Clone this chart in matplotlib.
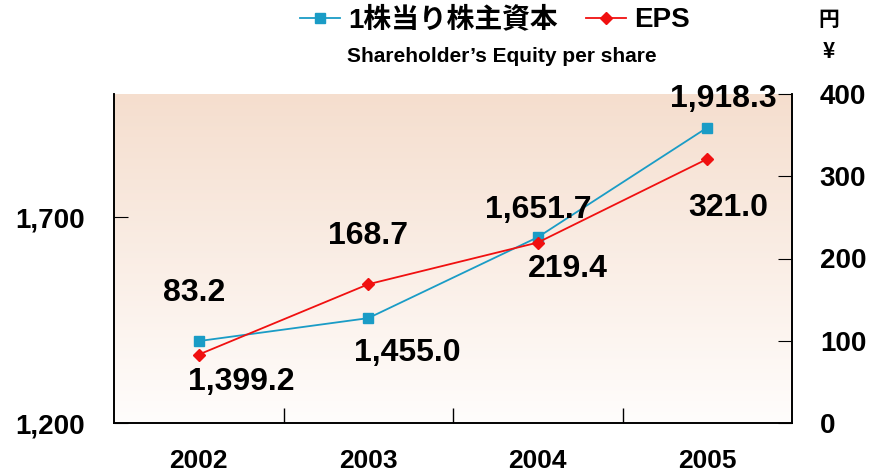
import numpy as np
import matplotlib
matplotlib.use("Agg")
import matplotlib.pyplot as plt
from matplotlib.lines import Line2D

years = ["2002", "2003", "2004", "2005"]
equity = [1399.2, 1455.0, 1651.7, 1918.3]
eps = [83.2, 168.7, 219.4, 321.0]
equity_labels = ["1,399.2", "1,455.0", "1,651.7", "1,918.3"]
eps_labels = ["83.2", "168.7", "219.4", "321.0"]
left_ticks = [1200, 1700]
left_ticklabels = ["1,200", "1,700"]
right_ticks = [0, 100, 200, 300, 400]

num_font = "Liberation Sans"
jp_font = ["Noto Sans CJK JP", "DejaVu Sans"]
mix_font = ["Liberation Sans", "Noto Sans CJK JP"]

BLUE = "#1A9CC6"
RED = "#F01010"

fig = plt.figure(figsize=(8.71, 4.76), dpi=100)
ax = fig.add_axes([114/871, 1-423/476, (792-114)/871, (423-94)/476])
ax2 = ax.twinx()

# gradient background
grad = np.linspace(0, 1, 256).reshape(-1, 1, 1)
top = np.array([245, 222, 206]) / 255
bot = np.array([255, 253, 252]) / 255
img = bot * grad + top * (1 - grad)
ax.imshow(img, extent=[0, 1, 0, 1], transform=ax.transAxes, aspect="auto", zorder=0)

x = np.arange(len(years))
ax.plot(x, equity, color=BLUE, lw=1.3, marker="s", ms=7, zorder=3)
ax2.plot(x, eps, color=RED, lw=1.3, marker="D", ms=6, zorder=3)

ax.set_xlim(-0.5, 3.5)
ax.set_ylim(1200, 2000)
ax2.set_ylim(0, 400)

ax.set_xticks([0.5, 1.5, 2.5])
ax.set_xticklabels([])
ax.set_xticks(x, minor=True)
ax.set_xticklabels(years, minor=True, fontsize=19, fontweight="bold", family=num_font)
ax.tick_params(axis="x", which="major", direction="in", length=11, width=1, colors="black")
ax.tick_params(axis="x", which="minor", length=0, pad=19)

ax.set_yticks(left_ticks)
ax.set_yticklabels(left_ticklabels, fontsize=20, fontweight="bold", family=num_font)
ax.tick_params(axis="y", direction="in", length=10, pad=21)
ax2.set_yticks(right_ticks)
ax2.set_yticklabels([str(v) for v in right_ticks], fontsize=20, fontweight="bold", family=num_font)
ax2.tick_params(axis="y", direction="in", length=10, pad=20)

for a in (ax, ax2):
    a.spines["top"].set_visible(False)
    for s in ("left", "right", "bottom"):
        a.spines[s].set_linewidth(1.2)
ax2.patch.set_visible(False)

lab_kw = dict(textcoords="offset pixels", ha="center", va="center",
              fontsize=23, fontweight="bold", family=num_font, zorder=5)
eq_off = [(42, -41), (39, -35), (0, 27), (16, 29)]
eps_off = [(-5, 62), (0, 48), (30, -26), (21, -49)]
for i in range(len(years)):
    ax.annotate(equity_labels[i], (x[i], equity[i]), xytext=eq_off[i], annotation_clip=False, **lab_kw)
    ax2.annotate(eps_labels[i], (x[i], eps[i]), xytext=eps_off[i], annotation_clip=False, **lab_kw)

# legend
handles = [Line2D([], [], color=BLUE, lw=1.3, marker="s", ms=7),
           Line2D([], [], color=RED, lw=1.3, marker="D", ms=6)]
leg = fig.legend(handles, ["1株当り株主資本", "EPS"], loc="center", bbox_to_anchor=(495/871, 1-20/476),
                 ncol=2, frameon=False, handlelength=1.45, handletextpad=0.3, columnspacing=1.0,
                 prop={"family": mix_font, "weight": "bold", "size": 20})
fig.text(502/871, 1-57/476, "Shareholder\u2019s Equity per share", ha="center", va="center",
         fontsize=15, fontweight="bold", family="Liberation Sans")

fig.text(829/871, 1-20/476, "円", ha="center", va="center", fontsize=15, fontweight="bold", family=jp_font)
fig.text(829/871, 1-51/476, "¥", ha="center", va="center", fontsize=15, fontweight="bold", family=jp_font)

fig.savefig("out.png", dpi=100, facecolor="white")
